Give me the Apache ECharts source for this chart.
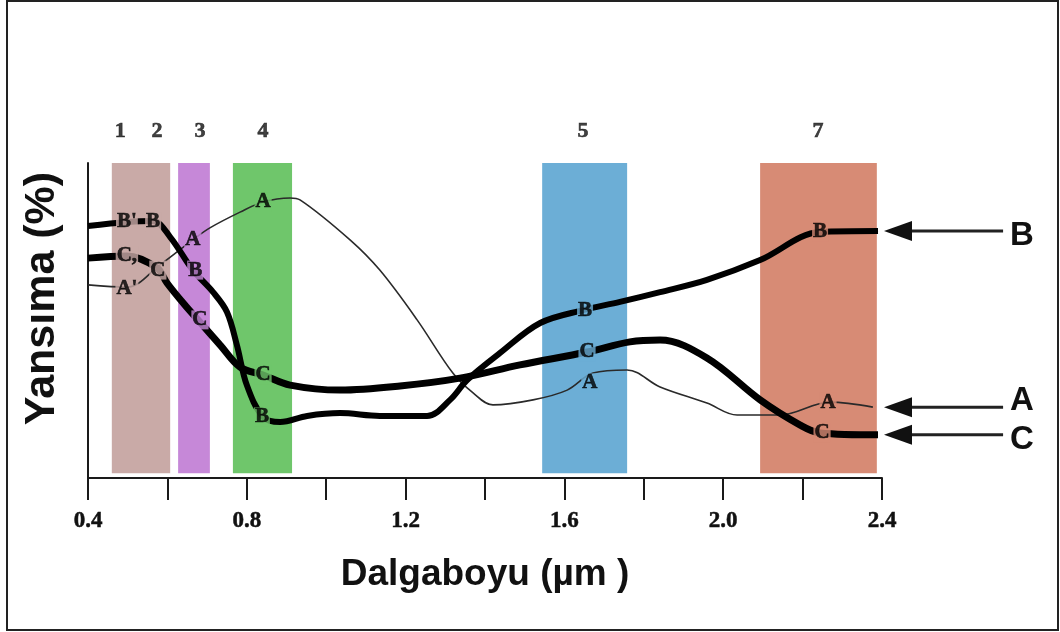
<!DOCTYPE html>
<html>
<head>
<meta charset="utf-8">
<script src="https://cdn.jsdelivr.net/npm/echarts/dist/echarts.min.js"></script>
<style>
html,body{margin:0;padding:0;background:#fff;}
#chart{width:1060px;height:632px;}
</style>
</head>
<body>
<div id="chart"></div>
<script>
// ---------------- DATA ----------------
const xTicks = [0.4, 0.6, 0.8, 1.0, 1.2, 1.4, 1.6, 1.8, 2.0, 2.2, 2.4];
const xTickLabels = ['0.4', '0.8', '1.2', '1.6', '2.0', '2.4'];

// Landsat TM bands: [start µm, end µm]
const bandRanges = [[0.46, 0.607], [0.627, 0.707], [0.765, 0.914], [1.544, 1.758], [2.093, 2.387]];
// band numbers: [text, x]
const bandNumbers = [['1', 0.481], ['2', 0.574], ['3', 0.682], ['4', 0.841], ['5', 1.647], ['7', 2.239]];

// reflectance curves [µm, relative %]
const curveA = [[0.4,61.3],[0.498,60.6],[0.581,67.6],[0.664,75.6],[0.707,79.4],[0.783,84.4],[0.841,87.6],[0.909,88.9],[0.934,88.3],[1.06,75.6],[1.135,66.0],[1.229,50.2],[1.319,33.3],[1.37,27.0],[1.42,23.2],[1.521,24.8],[1.607,27.9],[1.672,33.3],[1.758,34.3],[1.841,28.9],[1.959,23.8],[2.035,20.0],[2.143,20.0],[2.269,24.1],[2.377,22.5]];
const curveB = [[0.4,80.0],[0.498,81.3],[0.564,81.6],[0.607,76.5],[0.664,66.0],[0.715,59.0],[0.75,52.7],[0.775,42.2],[0.8,29.5],[0.841,19.4],[0.884,17.8],[0.952,19.7],[1.035,20.6],[1.135,19.7],[1.254,19.7],[1.312,24.8],[1.355,31.1],[1.438,39.7],[1.539,49.2],[1.647,53.3],[1.74,55.9],[1.841,59.0],[1.959,62.9],[2.093,69.2],[2.244,78.1],[2.39,78.4]];
const curveC = [[0.4,69.8],[0.498,70.5],[0.574,66.7],[0.599,61.9],[0.644,54.9],[0.682,49.5],[0.733,42.2],[0.783,35.2],[0.841,32.7],[0.909,29.5],[1.035,27.9],[1.186,29.2],[1.337,31.7],[1.488,35.9],[1.657,40.0],[1.765,43.2],[1.841,43.8],[1.959,38.1],[2.093,24.8],[2.194,16.8],[2.244,14.3],[2.39,13.7]];

// letters written on the curves: [x, y, text]
const lettersA = [[0.498,60.0,"A'"],[0.664,75.6,'A'],[0.841,87.6,'A'],[1.664,30.2,'A'],[2.264,24.1,'A']];
const lettersB = [[0.498,81.3,"B'"],[0.564,81.3,'B'],[0.670,66.0,'B'],[0.838,19.4,'B'],[1.652,53.3,'B'],[2.244,78.1,'B']];
const lettersC = [[0.498,70.5,'C,'],[0.576,66.0,'C'],[0.682,50.2,'C'],[0.841,32.7,'C'],[1.657,40.0,'C'],[2.249,14.3,'C']];

// pointer arrows at the right: tail x and head-tip x (µm scale)
const arrowSpan = [2.705, 2.405];
const arrowNames = ['B', 'A', 'C'];

const xTitle = 'Dalgaboyu (µm )';
const yTitle = 'Yansıma (%)';

// ---------------- STYLE ----------------
const bandColors = ['#c9aaa7', '#c688d8', '#6fc66b', '#6caed6', '#d78b75'];
const labelOffsets = { B: 5, A: -6, C: 5 };
const serif = 'Liberation Serif';
const sans = 'Liberation Sans';

function bandColorAt(x) {
  for (let i = 0; i < bandRanges.length; i++) {
    if (x >= bandRanges[i][0] && x <= bandRanges[i][1]) return bandColors[i];
  }
  return '#ffffff';
}

function letterSeries(list) {
  return {
    type: 'scatter', z: 6, clip: false, silent: true,
    symbolSize: 1, itemStyle: { color: 'rgba(0,0,0,0)' },
    data: list.map(d => ({
      value: [d[0], d[1]],
      label: {
        show: true, position: 'inside', formatter: d[2],
        fontFamily: serif, fontWeight: 'bold', fontSize: 21, color: '#000',
        textBorderColor: '#000', textBorderWidth: 0.6,
        backgroundColor: bandColorAt(d[0]), padding: [0, 1, -2, 1]
      }
    }))
  };
}

const curves = { A: curveA, B: curveB, C: curveC };
const arrowData = arrowNames.map((n, i) => {
  const c = curves[n];
  return [arrowSpan[0], arrowSpan[1], c[c.length - 1][1], i];
});

const chart = echarts.init(document.getElementById('chart'), null, { renderer: 'canvas' });

const option = {
  animation: false,
  backgroundColor: '#ffffff',
  grid: { left: 88, right: 178, top: 163, bottom: 154, containLabel: false },
  xAxis: {
    type: 'value', min: xTicks[0], max: xTicks[xTicks.length - 1], interval: 0.2,
    axisLine: { show: true, lineStyle: { color: '#1a1a1a', width: 2 } },
    axisTick: { show: true, length: 22, lineStyle: { color: '#1a1a1a', width: 2 } },
    splitLine: { show: false },
    axisLabel: {
      margin: 32, fontFamily: serif, fontWeight: 'bold', fontSize: 23, color: '#111',
      textBorderColor: '#111', textBorderWidth: 0.5,
      formatter: v => { const s = v.toFixed(1); return xTickLabels.indexOf(s) >= 0 ? s : ''; }
    },
    name: xTitle, nameLocation: 'middle', nameGap: 78,
    nameTextStyle: { fontFamily: sans, fontWeight: 'bold', fontSize: 37, color: '#111' }
  },
  yAxis: {
    type: 'value', min: 0, max: 100,
    axisLine: { show: true, lineStyle: { color: '#1a1a1a', width: 2 } },
    axisTick: { show: false }, axisLabel: { show: false }, splitLine: { show: false },
    name: yTitle, nameLocation: 'middle', nameGap: 24, nameRotate: 90,
    nameTextStyle: { fontFamily: sans, fontWeight: 'bold', fontSize: 43, color: '#111', padding: [0, 0, 0, 44] }
  },
  graphic: [{
    type: 'rect', z: 100, silent: true,
    shape: { x: 7, y: 1, width: 1051, height: 629 },
    style: { fill: 'none', stroke: '#222', lineWidth: 2 }
  }],
  series: [
    {
      type: 'line', z: 1, silent: true, data: [],
      markArea: {
        silent: true,
        data: bandRanges.map((b, i) => [
          { xAxis: b[0], yAxis: 1.5, itemStyle: { color: bandColors[i] } },
          { xAxis: b[1], yAxis: 100 }
        ])
      }
    },
    {
      type: 'scatter', z: 6, clip: false, silent: true,
      symbolSize: 1, itemStyle: { color: 'rgba(0,0,0,0)' },
      data: bandNumbers.map(d => ({
        value: [d[1], 110],
        label: { show: true, position: 'inside', formatter: d[0], fontFamily: serif, fontWeight: 'bold',
          fontSize: 22, color: '#111', textBorderColor: '#111', textBorderWidth: 0.6 }
      }))
    },
    { type: 'line', z: 3, data: curveA, smooth: 0.35, symbol: 'none', lineStyle: { color: '#2a2a2a', width: 1.6 } },
    { type: 'line', z: 4, data: curveB, smooth: 0.35, symbol: 'none', lineStyle: { color: '#000', width: 6 } },
    { type: 'line', z: 4, data: curveC, smooth: 0.35, symbol: 'none', lineStyle: { color: '#000', width: 7 } },
    letterSeries(lettersA),
    letterSeries(lettersB),
    letterSeries(lettersC),
    {
      type: 'custom', z: 5, clip: false, silent: true,
      encode: { x: [0, 1], y: 2 },
      data: arrowData,
      renderItem: (params, api) => {
        const y = api.value(2);
        const tail = api.coord([api.value(0), y]);
        const tip = api.coord([api.value(1), y]);
        const name = arrowNames[api.value(3)];
        const headLen = 28, headHalf = 10;
        return {
          type: 'group',
          children: [
            { type: 'line', shape: { x1: tip[0] + headLen - 2, y1: tip[1], x2: tail[0], y2: tail[1] },
              style: { stroke: '#222', lineWidth: 3 } },
            { type: 'polygon', shape: { points: [[tip[0], tip[1]], [tip[0] + headLen, tip[1] - headHalf], [tip[0] + headLen, tip[1] + headHalf]] },
              style: { fill: '#111' } },
            { type: 'text', style: { x: tail[0] + 7, y: tail[1] + labelOffsets[name], text: name,
                font: 'bold 33px "Liberation Sans"', fill: '#111', align: 'left', verticalAlign: 'middle' } }
          ]
        };
      }
    }
  ]
};

chart.setOption(option);
</script>
</body>
</html>
